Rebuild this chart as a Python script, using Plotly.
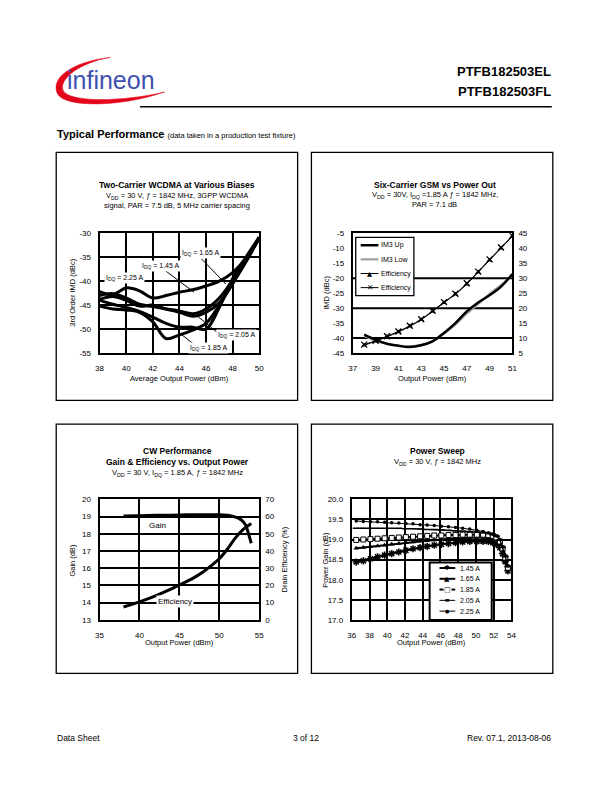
import plotly.graph_objects as go

W, H = 612, 792
FONT = "Arial, Liberation Sans, sans-serif"

def fx(p):
    return p / W

def fy(p):
    return 1 - p / H

# ---------------- Chart 1: Two-Carrier WCDMA ----------------
c1_x = [38, 39, 40, 41, 42, 43, 44, 45, 46, 47, 48, 49, 50]
c1_225 = [-42.2, -42.8, -41.4, -42.0, -43.5, -43.0, -42.3, -41.8, -41.0, -40.0, -38.2, -35.2, -31.0]
c1_145 = [-43.0, -42.6, -43.5, -44.8, -45.3, -45.8, -46.2, -46.8, -45.8, -43.5, -39.8, -35.5, -31.0]
c1_165 = [-43.8, -43.2, -44.0, -45.2, -45.0, -45.8, -46.5, -47.3, -46.5, -44.5, -40.5, -35.8, -31.0]
c1_205 = [-44.0, -44.8, -45.5, -46.3, -47.5, -48.8, -49.6, -49.6, -50.0, -45.5, -39.5, -35.0, -30.8]
c1_185 = [-45.2, -45.8, -46.0, -46.5, -48.5, -52.0, -51.2, -50.2, -48.8, -45.0, -40.5, -36.0, -31.0]
c1_xticks = [38, 40, 42, 44, 46, 48, 50]
c1_yticks = [-30, -35, -40, -45, -50, -55]
c1_ytext = ["-30", "-35", "-40", "-45", "-50", "-55"]

# ---------------- Chart 2: Six-Carrier GSM ----------------
c2_x = [38, 39, 40, 41, 42, 43, 44, 45, 46, 47, 48, 49, 50, 51]
c2_im3_up = [-38.9, -40.6, -41.9, -42.6, -43.0, -42.4, -41.1, -38.3, -35.0, -31.1, -28.1, -25.7, -22.8, -18.6]
c2_im3_low = [-39.3, -40.9, -42.0, -42.5, -42.8, -42.3, -41.0, -38.5, -35.5, -31.8, -28.6, -25.2, -22.3, -18.9]
c2_eff_tri = [7.6, 8.9, 10.4, 12.0, 13.9, 16.1, 18.9, 21.8, 24.6, 28.0, 32.0, 36.0, 40.0, 44.0]
c2_eff_x = [7.8, 9.1, 10.6, 12.2, 14.1, 16.3, 19.1, 22.0, 24.8, 28.3, 32.2, 36.3, 40.3, 44.2]
c2_xticks = [37, 39, 41, 43, 45, 47, 49, 51]
c2_yticks = [-5, -10, -15, -20, -25, -30, -35, -40, -45]
c2_ytext = ["-5", "-10", "-15", "-20", "-25", "-30", "-35", "-40", "-45"]
c2_y2ticks = [45, 40, 35, 30, 25, 20, 15, 10, 5]
c2_grid = [-20, -30, -40]

# ---------------- Chart 3: CW Performance ----------------
c3_gain_x = [38, 40, 42, 44, 46, 48, 50, 51, 51.5, 52, 52.5, 53, 53.3, 53.6, 54]
c3_gain_y = [19.03, 19.05, 19.07, 19.08, 19.1, 19.1, 19.1, 19.07, 19.03, 18.97, 18.88, 18.7, 18.5, 18.1, 17.45]
c3_eff_x = [38, 40, 42, 44, 45, 46, 47, 48, 49, 50, 51, 52, 53, 54]
c3_eff_y = [7.5, 10.5, 14.0, 18.0, 20.3, 22.5, 25.0, 28.0, 31.5, 35.5, 41.0, 47.5, 52.5, 56.0]
c3_xticks = [35, 40, 45, 50, 55]
c3_yticks = [13, 14, 15, 16, 17, 18, 19, 20]
c3_y2ticks = [0, 10, 20, 30, 40, 50, 60, 70]

# ---------------- Chart 4: Power Sweep ----------------
c4_x = [36.5, 37.3, 38.1, 38.9, 39.7, 40.5, 41.3, 42.1, 42.9, 43.7, 44.5, 45.3, 46.1,
        46.9, 47.7, 48.5, 49.3, 50.1, 50.8, 51.4, 51.9, 52.3, 52.7, 53.0, 53.3, 53.6]
c4_145 = [18.44, 18.47, 18.52, 18.57, 18.61, 18.65, 18.69, 18.73, 18.77, 18.80, 18.83, 18.86, 18.88,
          18.90, 18.92, 18.94, 18.95, 18.95, 18.95, 18.95, 18.92, 18.88, 18.80, 18.65, 18.45, 18.22]
c4_165 = [18.78, 18.80, 18.82, 18.84, 18.86, 18.88, 18.90, 18.92, 18.94, 18.96, 18.97, 18.99, 19.00,
          19.02, 19.03, 19.04, 19.05, 19.05, 19.05, 19.04, 19.02, 18.98, 18.90, 18.75, 18.52, 18.27]
c4_185 = [18.99, 19.00, 19.01, 19.02, 19.03, 19.04, 19.05, 19.06, 19.07, 19.08, 19.09, 19.10, 19.10,
          19.11, 19.11, 19.12, 19.12, 19.12, 19.12, 19.11, 19.09, 19.05, 18.95, 18.78, 18.55, 18.30]
c4_205 = [19.28, 19.28, 19.28, 19.28, 19.28, 19.28, 19.28, 19.27, 19.27, 19.26, 19.25, 19.25, 19.24,
          19.23, 19.22, 19.21, 19.20, 19.19, 19.17, 19.15, 19.12, 19.08, 18.98, 18.80, 18.57, 18.32]
c4_225 = [19.46, 19.45, 19.44, 19.44, 19.43, 19.42, 19.41, 19.40, 19.39, 19.37, 19.36, 19.35, 19.33,
          19.32, 19.30, 19.28, 19.26, 19.23, 19.20, 19.17, 19.14, 19.09, 19.00, 18.82, 18.60, 18.35]
c4_xticks = [36, 38, 40, 42, 44, 46, 48, 50, 52, 54]
c4_yticks = [17.0, 17.5, 18.0, 18.5, 19.0, 19.5, 20.0]
c4_ytext = ["17.0", "17.5", "18.0", "18.5", "19.0", "19.5", "20.0"]
c4_names = ["1.45 A", "1.65 A", "1.85 A", "2.05 A", "2.25 A"]

fig = go.Figure()

# Chart 1 traces
for ys in [c1_225, c1_145, c1_165, c1_205, c1_185]:
    fig.add_trace(go.Scatter(x=c1_x, y=ys, mode="lines", xaxis="x", yaxis="y",
                             line=dict(color="black", width=3, shape="spline", smoothing=1.0),
                             showlegend=False, hoverinfo="skip"))

# Chart 2 traces
fig.add_trace(go.Scatter(x=c2_x, y=c2_im3_low, mode="lines", xaxis="x2", yaxis="y2",
                         line=dict(color="#a0a0a0", width=2.2, shape="spline"), showlegend=False))
fig.add_trace(go.Scatter(x=c2_x, y=c2_im3_up, mode="lines", xaxis="x2", yaxis="y2",
                         line=dict(color="black", width=2.5, shape="spline"), showlegend=False))
fig.add_trace(go.Scatter(x=c2_x, y=c2_eff_tri, mode="lines+markers", xaxis="x2", yaxis="y3",
                         line=dict(color="black", width=1, shape="spline"),
                         marker=dict(symbol="triangle-up", size=5, color="black"), showlegend=False))
fig.add_trace(go.Scatter(x=c2_x, y=c2_eff_x, mode="lines+markers", xaxis="x2", yaxis="y3",
                         line=dict(color="black", width=1, shape="spline"),
                         marker=dict(symbol="x-thin-open", size=6, line=dict(color="black", width=1.3)),
                         showlegend=False))

# Chart 3 traces
fig.add_trace(go.Scatter(x=c3_gain_x, y=c3_gain_y, mode="lines", xaxis="x3", yaxis="y4",
                         line=dict(color="black", width=3, shape="spline"), showlegend=False))
fig.add_trace(go.Scatter(x=c3_eff_x, y=c3_eff_y, mode="lines", xaxis="x3", yaxis="y5",
                         line=dict(color="black", width=3, shape="spline"), showlegend=False))

# Chart 4 traces
c4_styles = [
    dict(line=dict(color="black", width=2), marker=dict(symbol="asterisk-open", size=6, line=dict(color="black", width=1.5))),
    dict(line=dict(color="black", width=2), marker=dict(symbol="triangle-up", size=5, color="black")),
    dict(line=dict(color="black", width=2), marker=dict(symbol="square", size=5, color="white", line=dict(color="black", width=1))),
    dict(line=dict(color="black", width=1), marker=dict(symbol="line-ew-open", size=5, line=dict(color="black", width=1.5))),
    dict(line=dict(color="black", width=1), marker=dict(symbol="circle", size=3.5, color="black")),
]
for ys, st in zip([c4_145, c4_165, c4_185, c4_205, c4_225], c4_styles):
    fig.add_trace(go.Scatter(x=c4_x, y=ys, mode="lines+markers", xaxis="x4", yaxis="y6",
                             line=st["line"], marker=st["marker"], showlegend=False))

tickfont = dict(family=FONT, size=8, color="black")

def xax(domain, rng, tickvals, anchor, grid=True, ticktext=None):
    d = dict(domain=domain, range=rng, tickvals=tickvals, anchor=anchor, showline=True, mirror=True,
             linecolor="black", linewidth=2, showgrid=grid, gridcolor="black", gridwidth=2,
             zeroline=False, ticks="", tickfont=tickfont, ticklabelstandoff=6, fixedrange=True)
    if ticktext is not None:
        d["ticktext"] = ticktext
    return d

def yax(domain, rng, tickvals, anchor, grid=True, ticktext=None, side="left", overlaying=None, line=True):
    d = dict(domain=domain, range=rng, tickvals=tickvals, anchor=anchor, side=side,
             showline=line, mirror=line, linecolor="black", linewidth=2, showgrid=grid,
             gridcolor="black", gridwidth=2, zeroline=False, ticks="", tickfont=tickfont,
             ticklabelstandoff=5, fixedrange=True)
    if ticktext is not None:
        d["ticktext"] = ticktext
    if overlaying:
        d["overlaying"] = overlaying
    return d

top_y = [fy(353), fy(232)]
bot_y = [fy(623), fy(501)]

fig.update_layout(
    width=W, height=H, margin=dict(l=0, r=0, t=0, b=0),
    paper_bgcolor="white", plot_bgcolor="white", showlegend=False,
    font=dict(family=FONT, color="black"),
    xaxis=xax([fx(97), fx(259)], [38, 50], c1_xticks, "y"),
    yaxis=yax(top_y, [-55, -30], c1_yticks, "x", ticktext=c1_ytext),
    xaxis2=xax([fx(354), fx(516)], [37, 51], c2_xticks, "y2", grid=False),
    yaxis2=yax(top_y, [-45, -5], c2_yticks, "x2", grid=False, ticktext=c2_ytext),
    yaxis3=yax(top_y, [5, 45], c2_y2ticks, "x2", grid=False, side="right", overlaying="y2", line=False),
    xaxis3=xax([fx(97), fx(259)], [35, 55], c3_xticks, "y4"),
    yaxis4=yax(bot_y, [13, 20], c3_yticks, "x3"),
    yaxis5=yax(bot_y, [0, 70], c3_y2ticks, "x3", grid=False, side="right", overlaying="y4", line=False),
    xaxis4=xax([fx(353), fx(515)], [36, 54], c4_xticks, "y6"),
    yaxis6=yax(bot_y, [17, 20], c4_yticks, "x4", ticktext=c4_ytext),
)

shapes = []
ann = []

def text(x, y, s, size, anchor="center", color="black", angle=0, bg=None, family=FONT):
    d = dict(x=fx(x), y=fy(y), xref="paper", yref="paper", text=s, showarrow=False,
             font=dict(size=size, family=family, color=color), xanchor=anchor, yanchor="middle",
             textangle=angle, borderpad=0)
    if bg:
        d["bgcolor"] = bg
    ann.append(d)

def pline(x0, y0, x1, y1, w=1.5, color="black"):
    shapes.append(dict(type="line", xref="paper", yref="paper", x0=fx(x0), y0=fy(y0),
                       x1=fx(x1), y1=fy(y1), line=dict(color=color, width=w)))

# Panels
for (x0, y0, x1, y1) in [(53, 150, 298, 401), (312, 150, 557, 401), (53, 425, 298, 677), (312, 425, 557, 677)]:
    shapes.append(dict(type="rect", xref="paper", yref="paper", x0=fx(x0), y0=fy(y1), x1=fx(x1), y1=fy(y0),
                       line=dict(color="black", width=1.3), fillcolor="rgba(0,0,0,0)", layer="below"))

# Header
logo_pts = [(108, 54), (70, 58), (45, 75), (55, 92), (65, 105), (120, 104), (163, 89),
            (125, 98), (75, 100), (62, 90), (52, 80), (72, 60), (108, 54)]
p = logo_pts
path = "M %f,%f " % (fx(p[0][0]), fy(p[0][1]))
for i in range(1, len(p), 3):
    path += "C %f,%f %f,%f %f,%f " % (fx(p[i][0]), fy(p[i][1]), fx(p[i+1][0]), fy(p[i+1][1]), fx(p[i+2][0]), fy(p[i+2][1]))
path += "Z"
shapes.append(dict(type="path", xref="paper", yref="paper", path=path, fillcolor="#e3061a",
                   line=dict(color="#e3061a", width=0.5)))
text(109, 77, "infineon", 25, color="#3f51b0")
text(556, 68, "<b>PTFB182503EL</b>", 13, anchor="right")
text(556, 88, "<b>PTFB182503FL</b>", 13, anchor="right")
shapes.append(dict(type="rect", xref="paper", yref="paper", x0=fx(138), x1=fx(556), y0=fy(104.8), y1=fy(103.2),
                   fillcolor="black", line=dict(width=0)))
text(53, 131, "<b>Typical Performance</b> <span style='font-size:7.5px'>(data taken in a production test fixture)</span>", 11, anchor="left")

# Footer
text(53, 742, "Data Sheet", 8.5, anchor="left")
text(306, 742, "3 of 12", 8.5)
text(556, 742, "Rev. 07.1, 2013-08-06", 8.5, anchor="right")

# Chart 1 text
text(176, 183, "<b>Two-Carrier WCDMA at Various Biases</b>", 8.5)
text(176, 194, "V<sub>DD</sub> = 30 V, <i>ƒ</i> = 1842 MHz, 3GPP WCDMA", 7.5)
text(176, 204, "signal, PAR = 7.5 dB, 5 MHz carrier spacing", 7.5)
text(70, 292, "3rd Order IMD (dBc)", 7.5, angle=-90)
text(178, 379, "Average Output Power (dBm)", 7.5)

c1_labels = [(45.6, -34.1, "I<sub>DQ</sub> = 1.65 A"), (42.6, -36.8, "I<sub>DQ</sub> = 1.45 A"),
             (39.9, -39.3, "I<sub>DQ</sub> = 2.25 A"), (48.3, -51.3, "I<sub>DQ</sub> = 2.05 A"),
             (46.2, -54.0, "I<sub>DQ</sub> = 1.85 A")]
for (x, y, s) in c1_labels:
    ann.append(dict(x=x, y=y, xref="x", yref="y", text=s, showarrow=False, bgcolor="white", borderpad=1,
                    font=dict(size=7, family=FONT, color="black")))
c1_leaders = [(45.65, -35.3, 47.5, -40.6), (42.9, -37.7, 45.1, -42.3),
              (45.4, -47.4, 46.8, -50.6), (44.0, -50.8, 45.2, -53.4)]
for (x0, y0, x1, y1) in c1_leaders:
    shapes.append(dict(type="line", xref="x", yref="y", x0=x0, y0=y0, x1=x1, y1=y1,
                       line=dict(color="black", width=1)))

# Chart 2 text
text(437, 183, "<b>Six-Carrier GSM vs Power Out</b>", 8.5)
text(437, 193, "V<sub>DD</sub> = 30V, I<sub>DQ</sub> =1.85 A <i>ƒ</i> = 1842 MHz,", 7.5)
text(437, 203, "PAR = 7.1 dB", 7.5)
text(327, 292, "IMD (dBc)", 7.5, angle=-90)
text(435, 379, "Output Power (dBm)", 7.5)
for g in c2_grid:
    shapes.append(dict(type="line", xref="x2 domain", yref="y2", x0=0, x1=1, y0=g, y1=g,
                       line=dict(color="black", width=2), layer="below"))
# Chart 2 legend
shapes.append(dict(type="rect", xref="paper", yref="paper", x0=fx(357), y0=fy(295), x1=fx(416), y1=fy(236),
                   line=dict(color="black", width=1.3), fillcolor="white"))
leg2 = [("IM3 Up", "black", 2.5, None), ("IM3 Low", "#a0a0a0", 2.2, None),
        ("Efficiency", "black", 1, "▲"), ("Efficiency", "black", 1, "✕")]
for i, (name, col, w, mk) in enumerate(leg2):
    yy = 244 + i * 14.3
    pline(362, yy, 380, yy, w, col)
    if mk:
        text(371, yy, mk, 6.5 if mk == "▲" else 7.5, family="DejaVu Sans")
    text(382, yy, name, 7, anchor="left")

# Chart 3 text
text(176, 452, "<b>CW Performance</b>", 8.5)
text(176, 463, "<b>Gain & Efficiency vs. Output Power</b>", 8.5)
text(176, 474, "V<sub>DD</sub> = 30 V, I<sub>DQ</sub> = 1.85 A, <i>ƒ</i> = 1842 MHz", 7.5)
text(70, 562, "Gain (dB)", 7.5, angle=-90)
text(285, 562, "Drain Efficiency (%)", 7.5, angle=-90)
text(178, 646, "Output Power (dBm)", 7.5)
ann.append(dict(x=42.3, y=18.5, xref="x3", yref="y4", text="Gain", showarrow=False, bgcolor="white",
                borderpad=1, font=dict(size=8, family=FONT, color="black")))
ann.append(dict(x=44.4, y=14.05, xref="x3", yref="y4", text="Efficiency", showarrow=False, bgcolor="white",
                borderpad=1, font=dict(size=8, family=FONT, color="black")))

# Chart 4 text
text(440, 452, "<b>Power Sweep</b>", 8.5)
text(440, 463, "V<sub>DD</sub> = 30 V, <i>ƒ</i> = 1842 MHz", 7.5)
text(326, 562, "Power Gain (dB)", 7.5, angle=-90)
text(434, 646, "Output Power (dBm)", 7.5)
shapes.append(dict(type="rect", xref="paper", yref="paper", x0=fx(432), y0=fy(623), x1=fx(495), y1=fy(565),
                   line=dict(color="black", width=2), fillcolor="white"))
leg4_marks = ["✱", "▲", "□", "", "●"]
leg4_w = [2, 2, 2, 1, 1]
for i, name in enumerate(c4_names):
    yy = 570.5 + i * 10.9
    pline(442, yy, 458, yy, leg4_w[i])
    if leg4_marks[i]:
        ann.append(dict(x=fx(450), y=fy(yy), xref="paper", yref="paper", text=leg4_marks[i], showarrow=False,
                        xanchor="center", yanchor="middle",
                        font=dict(size=7 if i != 4 else 5, family="DejaVu Sans", color="black"),
                        bgcolor="white" if i == 2 else "rgba(0,0,0,0)", borderpad=0))
    else:
        pline(448, yy, 452, yy, 2.5)
    text(462, yy, name, 7, anchor="left")

fig.update_layout(shapes=shapes, annotations=ann)
fig.write_html("out.html", config={"displayModeBar": False},
               post_script="document.body.style.margin='0px';document.body.style.overflow='hidden';")
